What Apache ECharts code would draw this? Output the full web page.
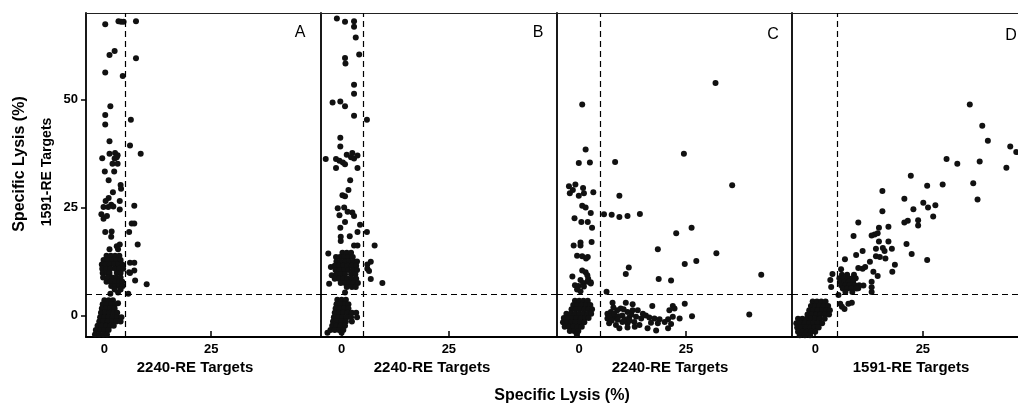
<!DOCTYPE html>
<html>
<head>
<meta charset="utf-8">
<script src="https://cdn.jsdelivr.net/npm/echarts@6/dist/echarts.min.js"></script>
<style>
html, body { margin: 0; padding: 0; background: #fff; }
#main { width: 1018px; height: 405px; }
</style>
</head>
<body>
<div id="main"></div>
<script>
// tick labels
var xTicks = [0, 25];
var yTicks = [0, 25, 50];
var cutoff = 5;

var panelNames = ['A', 'B', 'C', 'D'];
var xNames = ['2240-RE Targets', '2240-RE Targets', '2240-RE Targets', '1591-RE Targets'];

// panel A: [x, y]
var panelA = [
  [0.2,67.4],[3.3,68.1],[3.9,68],[4.5,68],[7.4,68.1],[2.4,61.2],[1.2,60.3],[7.4,59.5],[0.2,56.2],[4.3,55.4],
  [1.4,48.4],[0.2,46.4],[0.2,44.2],[6.2,45.3],[1.2,40.3],[6.0,39.3],[-0.5,36.4],[1.2,37.4],[2.5,37.6],[3.1,37.1],
  [2.4,36.3],[2.9,36.6],[8.5,37.4],[1.9,35.1],[3.1,35.1],[0.1,33.3],[2.3,33.3],
  [1.0,31.3],[3.8,30.2],[3.9,29.3],[2.0,28.5],[1.0,27.2],[0.3,26.5],[3.6,26.5],[-0.2,25.1],[1.6,25.6],[0.9,25.1],
  [2.1,25.2],[3.6,24.5],[7.0,25.4],[-0.7,23.4],[-0.2,22.4],[0.6,23.0],[6.4,21.3],[7.0,21.3],[5.8,19.3],[0.2,19.3],
  [1.7,19.4],[1.6,18.2],[7.8,16.4],[1.2,15.3],[2.9,16.0],[3.6,16.4],[3.2,15.3],
  [6.0,12.2],[7.0,12.2],[5.8,10.0],[7.0,10.4],[6.0,9.8],[7.2,8.1],[9.9,7.2],[5.6,5.0],[1.4,5.0],[3.2,5.3],
  // upper cluster
  [0.5,13.8],[1.5,13.8],[2.5,13.8],[3.5,13.8],
  [-0.2,12.8],[0.8,12.8],[1.8,12.8],[2.8,12.8],[3.8,12.8],
  [-0.6,11.8],[0.3,11.8],[1.3,11.8],[2.3,11.8],[3.3,11.8],[4.2,11.8],
  [-0.5,10.8],[0.5,10.8],[1.4,10.8],[2.6,10.8],[3.5,10.8],[4.4,10.8],
  [-0.4,9.8],[0.6,9.8],[1.2,9.8],[2.9,9.8],[3.8,9.8],
  [-0.3,8.8],[0.8,8.8],[1.8,8.8],[2.8,8.8],[3.8,8.8],
  [0.5,7.8],[1.5,7.8],[2.5,7.8],[3.5,7.8],[4.2,7.8],
  [1.6,6.8],[2.6,6.8],[3.5,6.8],[4.3,6.8],[2.4,6.0],[3.8,6.0],
  // lower cluster
  [0.0,3.5],[1.0,3.5],[2.0,3.5],[3.2,2.8],
  [-0.4,2.6],[0.6,2.6],[1.6,2.6],[2.5,2.6],
  [-0.6,1.6],[0.4,1.6],[1.4,1.6],[2.4,1.6],
  [-0.8,0.6],[0.2,0.6],[1.2,0.6],[2.2,0.6],[3.0,0.6],
  [-1.0,-0.4],[0.0,-0.4],[1.0,-0.4],[2.0,-0.4],[3.0,-0.4],[4.0,-0.4],
  [-1.2,-1.4],[-0.2,-1.4],[0.8,-1.4],[1.8,-1.4],[2.8,-1.4],[3.8,-1.4],
  [-1.6,-2.4],[-0.6,-2.4],[0.4,-2.4],[1.4,-2.4],[2.2,-2.4],
  [-2.0,-3.4],[-1.0,-3.4],[0.0,-3.4],[1.0,-3.4],
  [-2.2,-4.4],[-1.2,-4.4],[-0.2,-4.4],[0.6,-4.4]
];

// panel B
var panelB = [
  [-1.1,68.7],[0.8,68.0],[2.9,68.1],[2.9,66.8],[3.3,64.3],[4.1,60.4],[0.8,59.6],[0.9,58.3],[2.9,53.4],[2.9,51.3],
  [-2.1,49.3],[-0.3,49.5],[0.8,48.4],[2.9,46.2],[5.9,45.3],[-0.3,41.1],[-0.3,39.1],[-3.7,36.2],[-1.3,36.2],[-0.5,35.8],
  [0.3,35.4],[0.8,35.0],[1.2,37.2],[2.5,37.6],[2.2,36.6],[2.9,36.3],[3.7,37.0],[-1.3,34.1],[3.7,34.1],
  [2.0,31.3],[1.6,29.0],[0.2,27.8],[0.8,27.6],[-0.9,24.8],[0.6,25.0],[1.4,24.0],[2.5,23.8],[2.9,23.0],[-0.5,23.2],
  [0.8,21.6],[-0.3,20.3],[4.3,21.0],[5.9,19.3],[3.7,19.3],[-0.2,18.2],[-0.2,17.2],[1.9,18.3],[2.9,16.2],[3.7,16.2],
  [7.7,16.2],[-3.1,14.3],[-1.3,13.5],[-2.5,11.2],[-2.3,9.3],[-2.9,7.3],[6.8,12.4],[6.0,11.8],[6.0,10.8],[6.4,10.3],
  [6.8,8.4],[9.5,7.5],[0.8,5.3],
  // upper cluster
  [0.2,14.5],[1.2,14.5],[2.2,14.5],
  [-0.4,13.5],[0.6,13.5],[1.6,13.5],[2.6,13.5],
  [-1.2,12.5],[-0.2,12.5],[0.8,12.5],[1.8,12.5],[2.8,12.5],[3.6,12.5],
  [-1.6,11.5],[-0.6,11.5],[0.4,11.5],[1.4,11.5],[2.4,11.5],[3.4,11.5],
  [-1.4,10.5],[-0.4,10.5],[0.6,10.5],[1.5,10.5],[2.6,10.5],[3.6,10.5],
  [-1.2,9.5],[-0.2,9.5],[0.8,9.5],[2.2,9.5],[3.2,9.5],
  [-1.6,8.5],[-0.6,8.5],[0.4,8.5],[1.4,8.5],[2.4,8.5],[3.4,8.5],
  [-0.2,7.5],[0.8,7.5],[1.8,7.5],[2.8,7.5],[3.8,7.5],
  [1.2,6.6],[2.4,6.6],[3.3,6.6],
  // lower cluster
  [-1.0,3.6],[0.0,3.6],[1.0,3.6],
  [-1.2,2.6],[-0.2,2.6],[0.8,2.6],[1.6,2.6],
  [-1.4,1.6],[-0.4,1.6],[0.6,1.6],[1.6,1.6],
  [-1.6,0.6],[-0.6,0.6],[0.4,0.6],[1.4,0.6],[2.4,0.6],[3.4,0.6],
  [-1.8,-0.4],[-0.8,-0.4],[0.2,-0.4],[1.2,-0.4],[2.2,-0.4],[3.6,-0.4],
  [-2.0,-1.4],[-1.0,-1.4],[0.0,-1.4],[1.0,-1.4],[2.4,-1.4],
  [-2.2,-2.4],[-1.2,-2.4],[-0.2,-2.4],[0.8,-2.4],
  [-2.6,-3.4],[-1.6,-3.4],[-0.6,-3.4],[0.4,-3.4],
  [-3.3,-4.0],[0.0,-4.0]
];

// panel C
var panelC = [
  [31.9,53.8],[0.7,48.8],[24.5,37.4],[1.5,38.4],[-0.1,35.3],[2.5,35.4],[8.4,35.5],[35.8,30.1],
  [-2.4,29.9],[-2.2,28.3],[-0.9,30.3],[-1.5,29.0],[-0.1,27.7],[0.9,29.5],[1.1,28.3],[3.3,28.5],[9.4,27.7],
  [0.7,25.4],[1.5,25.0],[2.7,23.7],[-1.1,22.5],[0.5,21.6],[2.0,21.6],[3.0,20.3],
  [5.8,23.4],[7.6,23.3],[9.4,22.8],[11.3,23.0],[14.2,23.5],[26.3,20.3],[22.7,19.0],
  [-1.3,16.2],[0.3,16.9],[0.3,16.2],[2.9,17.0],[18.4,15.3],[32.1,14.4],
  [-0.5,13.8],[0.7,13.7],[1.6,13.2],[2.0,13.5],[27.4,12.6],[24.7,11.9],[11.6,11.1],[10.9,9.6],
  [0.7,10.4],[1.5,10.0],[1.9,9.3],[-1.6,9.0],[0.3,8.2],[2.1,8.5],[2.7,7.7],[18.6,8.4],[21.5,8.1],[42.6,9.4],
  [-1.0,7.0],[-0.2,6.8],[0.9,7.5],[1.1,6.7],[1.9,7.8],[2.7,7.4],[6.4,5.5],[-0.5,6.0],[0.3,5.6],
  // below cutoff, right
  [7.8,2.9],[10.9,2.9],[12.5,2.6],[17.1,2.2],[21.9,2.2],[24.7,2.7],
  [6.6,0.4],[7.4,0.8],[8.9,1.2],[9.7,1.6],[11.3,0.8],[12.5,1.2],[13.7,1.2],[14.9,0.4],[21.1,1.2],[22.3,1.6],
  [6.6,-0.7],[7.8,-0.3],[8.8,-0.7],[10.1,0.0],[11.7,-0.5],[13.3,-0.3],[14.5,-0.7],[15.6,0.0],[16.4,-0.5],
  [17.6,-0.7],[18.8,-0.9],[20.8,-0.9],[21.9,-0.3],[23.5,-0.7],[26.4,-0.2],
  [7.0,-1.8],[8.6,-2.2],[10.1,-1.5],[11.3,-1.8],[12.9,-1.5],[14.1,-2.2],[16.8,-1.7],[18.4,-1.8],[20.0,-1.5],[21.5,-2.0],
  [9.4,-3.0],[11.3,-2.8],[16.0,-3.0],[18.0,-3.5],[20.8,-3.0],[39.8,0.2],
  [7.2,-0.2],[8.2,0.4],[9.2,-0.2],[10.6,-0.9],[12.2,0.2],[7.6,-1.2],[9.0,-1.0],[11.8,-1.2],[13.0,-2.6],[8.0,1.8],[10.4,1.4],
  // below cutoff, left cluster
  [-1.0,3.4],[0.0,3.4],[1.0,3.4],[2.0,3.4],
  [-1.4,2.4],[-0.4,2.4],[0.6,2.4],[1.6,2.4],[2.6,2.4],
  [-1.8,1.4],[-0.8,1.4],[0.2,1.4],[1.2,1.4],[2.2,1.4],[3.0,1.4],
  [-3.0,0.4],[-2.0,0.4],[-1.0,0.4],[0.0,0.4],[1.0,0.4],[2.0,0.4],[2.8,0.4],
  [-3.6,-0.6],[-2.6,-0.6],[-1.6,-0.6],[-0.6,-0.6],[0.4,-0.6],[1.4,-0.6],[2.2,-0.6],
  [-3.8,-1.6],[-2.8,-1.6],[-1.8,-1.6],[-0.8,-1.6],[0.2,-1.6],[1.2,-1.6],
  [-3.4,-2.6],[-2.4,-2.6],[-1.4,-2.6],[-0.4,-2.6],[0.6,-2.6],
  [-2.2,-3.6],[-1.2,-3.6],[-0.2,-3.6],[-0.6,-4.3]
];

// panel D
var panelD = [
  [35.9,48.8],[38.8,43.9],[40.1,40.4],[45.3,39.1],[46.7,37.8],[44.4,34.2],[30.5,36.2],[33.0,35.1],[38.2,35.6],
  [36.7,30.6],[37.7,26.8],[22.2,32.3],[26.0,30.0],[29.6,30.3],[15.6,28.8],[20.7,27.0],[25.1,26.1],[26.2,25.0],
  [27.9,25.5],[27.4,22.9],[22.8,24.6],[15.6,24.1],[23.9,22.0],[23.9,20.8],[20.7,21.5],[21.5,21.9],[10.0,21.5],
  [14.8,20.3],[17.0,20.5],[8.9,18.4],[13.1,18.5],[13.8,18.7],[14.5,19.0],[14.8,17.1],[17.0,17.1],[21.2,16.5],
  [22.4,14.2],[26.0,12.8],[14.1,15.4],[15.7,15.6],[16.1,14.9],[17.8,15.4],[14.1,13.7],[15.0,13.5],[16.3,13.2],
  [11.0,14.9],[9.5,14.0],[6.9,13.0],[12.7,12.4],[18.5,11.7],[11.6,11.2],[11.0,10.8],[10.0,11.0],[14.5,9.1],
  [13.5,10.1],[17.9,10.1],[6.0,10.7],[4.0,9.6],[3.5,8.2],[3.7,6.6],[13.1,7.8],[13.1,6.5],[13.1,5.4],[11.2,6.9],
  [10.0,6.3],[5.4,4.7],[6.2,2.0],[6.8,1.5],[7.7,2.7],[8.5,2.9],[5.8,2.7],
  // cluster above cutoff
  [6.2,9.4],[7.4,9.4],[9.0,9.4],
  [5.6,8.6],[6.6,8.6],[7.6,8.6],[8.6,8.6],[9.4,8.6],
  [5.8,7.8],[6.8,7.8],[7.8,7.8],[8.8,7.8],
  [6.0,7.0],[7.0,7.0],[8.0,7.0],[9.2,7.0],[10.2,7.0],
  [6.4,6.2],[7.4,6.2],[8.4,6.2],[9.6,6.2],[7.0,5.4],[8.6,5.4],
  // cluster near zero
  [-0.6,3.2],[0.4,3.2],[1.4,3.2],[2.4,3.2],
  [-1.0,2.2],[0.0,2.2],[1.0,2.2],[2.0,2.2],[3.0,2.2],
  [-1.4,1.2],[-0.4,1.2],[0.6,1.2],[1.6,1.2],[2.6,1.2],[3.4,1.2],
  [-1.8,0.2],[-0.8,0.2],[0.2,0.2],[1.2,0.2],[2.2,0.2],[3.2,0.2],
  [-4.0,-0.8],[-3.0,-0.8],[-2.0,-0.8],[-1.0,-0.8],[0.0,-0.8],[1.0,-0.8],[2.2,-0.8],
  [-4.4,-1.8],[-3.4,-1.8],[-2.4,-1.8],[-1.4,-1.8],[-0.4,-1.8],[0.6,-1.8],[1.6,-1.8],
  [-4.2,-2.8],[-3.2,-2.8],[-2.2,-2.8],[-1.2,-2.8],[-0.2,-2.8],[0.8,-2.8],
  [-4.0,-3.8],[-3.0,-3.8],[-2.0,-3.8],[-1.0,-3.8],[0.0,-3.8],
  [-3.6,-4.6],[-2.4,-4.6],[-1.2,-4.6]
];

var panels = [panelA, panelB, panelC, panelD];
var gridLefts = [86, 321, 557, 792];
var gridWidths = [235, 236, 235, 227];
var xMins = [-4.3, -4.8, -5.2, -5.4];
var xSpans = [55, 55, 55, 52.5];
var nameCenters = [195, 432, 670, 911];
var letterPos = [[300, 33], [538, 33], [773, 35], [1011, 36]];

var font = 'Liberation Sans, Arial, sans-serif';

var grids = [], xAxes = [], yAxes = [], series = [], graphics = [];

panels.forEach(function (pts, i) {
  grids.push({ left: gridLefts[i], top: 13, width: gridWidths[i], height: 324 });
  xAxes.push({
    gridIndex: i, type: 'value',
    min: xMins[i], max: xMins[i] + xSpans[i],
    splitLine: { show: false },
    axisLine: { onZero: false, lineStyle: { color: '#000', width: 1.8 } },
    axisTick: { show: true, inside: true, length: 6, customValues: xTicks, lineStyle: { color: '#000', width: 1.5 } },
    axisLabel: { customValues: xTicks, color: '#000', fontFamily: font, fontWeight: 'bold', fontSize: 13, margin: 6 }
  });
  yAxes.push({
    gridIndex: i, type: 'value', min: -5, max: 70,
    splitLine: { show: false },
    axisLine: { show: true, onZero: false, lineStyle: { color: '#000', width: 1.8 } },
    axisTick: { show: i === 0, length: 5, customValues: yTicks, lineStyle: { color: '#000', width: 1.5 } },
    axisLabel: { show: i === 0, customValues: yTicks, color: '#000', fontFamily: font, fontWeight: 'bold', fontSize: 13, margin: 8 }
  });
  series.push({
    type: 'scatter', xAxisIndex: i, yAxisIndex: i,
    data: pts, symbolSize: 6,
    itemStyle: { color: '#111', opacity: 1 },
    markLine: {
      silent: true, symbol: ['none', 'none'],
      label: { show: false },
      lineStyle: { color: '#000', type: [6, 4], width: 1.2 },
      data: [{ xAxis: cutoff }, { yAxis: cutoff }]
    }
  });
  graphics.push({
    type: 'text', x: nameCenters[i], y: 368,
    style: { text: xNames[i], font: 'bold 15px ' + font, fill: '#000', textAlign: 'center', textVerticalAlign: 'middle' }
  });
  graphics.push({
    type: 'text', x: letterPos[i][0], y: letterPos[i][1],
    style: { text: panelNames[i], font: '16px ' + font, fill: '#000', textAlign: 'center', textVerticalAlign: 'middle' }
  });
});

// top frame lines, one per panel
panels.forEach(function (pts, i) {
  xAxes.push({
    gridIndex: i, type: 'value', position: 'top',
    min: xMins[i], max: xMins[i] + xSpans[i],
    splitLine: { show: false }, axisTick: { show: false }, axisLabel: { show: false },
    axisLine: { onZero: false, lineStyle: { color: '#222', width: 1.2 } }
  });
});

graphics.push({
  type: 'text', x: 562, y: 396,
  style: { text: 'Specific Lysis (%)', font: 'bold 16px ' + font, fill: '#000', textAlign: 'center', textVerticalAlign: 'middle' }
});
graphics.push({
  type: 'text', x: 20, y: 164, rotation: Math.PI / 2,
  style: { text: 'Specific Lysis (%)', font: 'bold 16px ' + font, fill: '#000', textAlign: 'center', textVerticalAlign: 'middle' }
});
graphics.push({
  type: 'text', x: 47, y: 172, rotation: Math.PI / 2,
  style: { text: '1591-RE Targets', font: 'bold 14px ' + font, fill: '#000', textAlign: 'center', textVerticalAlign: 'middle' }
});

var chart = echarts.init(document.getElementById('main'));
chart.setOption({
  animation: false,
  backgroundColor: '#fff',
  grid: grids,
  xAxis: xAxes,
  yAxis: yAxes,
  series: series,
  graphic: graphics
});
</script>
</body>
</html>
